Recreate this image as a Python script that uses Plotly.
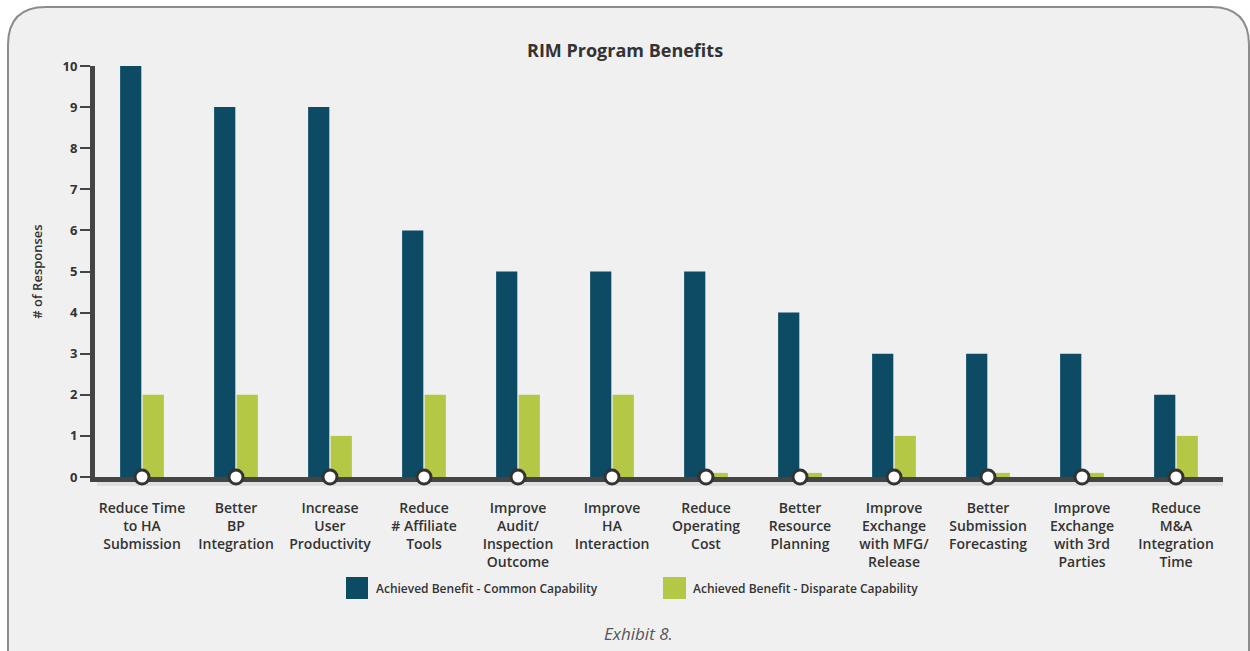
import plotly.graph_objects as go

categories = [
    "Reduce Time<br>to HA<br>Submission",
    "Better<br>BP<br>Integration",
    "Increase<br>User<br>Productivity",
    "Reduce<br># Affiliate<br>Tools",
    "Improve<br>Audit/<br>Inspection<br>Outcome",
    "Improve<br>HA<br>Interaction",
    "Reduce<br>Operating<br>Cost",
    "Better<br>Resource<br>Planning",
    "Improve<br>Exchange<br>with MFG/<br>Release",
    "Better<br>Submission<br>Forecasting",
    "Improve<br>Exchange<br>with 3rd<br>Parties",
    "Reduce<br>M&A<br>Integration<br>Time",
]
common = [10, 9, 9, 6, 5, 5, 5, 4, 3, 3, 3, 2]
disparate = [2, 2, 1, 2, 2, 2, 0.1, 0.1, 1, 0.1, 0.1, 1]
zero_markers = [0] * len(categories)
y_ticks = [0, 1, 2, 3, 4, 5, 6, 7, 8, 9, 10]
series_names = ["Achieved Benefit - Common Capability", "Achieved Benefit - Disparate Capability"]

DARK = "#0c4b63"
GREEN = "#b5c846"
TXT = "#333333"
FONT = "Open Sans"

W, H = 1250, 651
ML, MR, MT, MB = 95, 27, 66, 174
PW, PH = W - ML - MR, H - MT - MB


def px(x):
    return (x - ML) / PW


def py(y):
    return (H - MB - y) / PH


xs = list(range(len(categories)))
fig = go.Figure()
fig.add_trace(go.Bar(x=xs, y=common, name=series_names[0], showlegend=False, legendgroup="c",
                     marker=dict(color=DARK, line=dict(width=0))))
fig.add_trace(go.Bar(x=xs, y=disparate, name=series_names[1], showlegend=False, legendgroup="d",
                     marker=dict(color=GREEN, line=dict(width=0))))
# legend entries with large square swatches
fig.add_trace(go.Scatter(x=[None], y=[None], mode="markers", name=series_names[0], legendgroup="c",
                         marker=dict(symbol="square", size=22, color=DARK)))
fig.add_trace(go.Scatter(x=[None], y=[None], mode="markers", name=series_names[1], legendgroup="d",
                         marker=dict(symbol="square", size=22, color=GREEN)))
fig.add_trace(go.Scatter(x=xs, y=zero_markers, mode="markers", showlegend=False,
                         cliponaxis=False, hoverinfo="skip",
                         marker=dict(size=14, color="white", line=dict(color="#333333", width=3))))

# rounded background box
L, T, R, B, r = 8, 7, 1249, 670, 38
path = (
    f"M {px(L)},{py(T + r)} "
    f"Q {px(L)},{py(T)} {px(L + r)},{py(T)} "
    f"L {px(R - r)},{py(T)} "
    f"Q {px(R)},{py(T)} {px(R)},{py(T + r)} "
    f"L {px(R)},{py(B)} L {px(L)},{py(B)} Z"
)
shapes = [
    dict(type="path", path=path, xref="paper", yref="paper", layer="below",
         fillcolor="#f0f0f0", line=dict(color="#8c8c8c", width=2)),
    dict(type="line", xref="paper", yref="paper", x0=px(97), x1=px(1223), y0=py(483), y1=py(483),
         layer="below", line=dict(color="rgba(0,0,0,0.07)", width=6)),
    # enlarge legend swatches to match the reference's big squares
    dict(type="rect", xref="paper", yref="paper", x0=px(346), x1=px(368), y0=py(599), y1=py(577),
         layer="above", fillcolor=DARK, line=dict(width=0)),
    dict(type="rect", xref="paper", yref="paper", x0=px(663), x1=px(686), y0=py(599), y1=py(577),
         layer="above", fillcolor=GREEN, line=dict(width=0)),
]

annotations = [
    dict(text="<b>RIM Program Benefits</b>", x=px(625), y=py(50), xref="paper", yref="paper",
         showarrow=False, font=dict(family=FONT, size=18, color=TXT), xanchor="center", yanchor="middle"),
    dict(text="<i>Exhibit 8.</i>", x=px(638), y=py(633), xref="paper", yref="paper",
         showarrow=False, font=dict(family=FONT, size=17, color="#555555"), xanchor="center", yanchor="middle"),
]

fig.update_layout(
    width=W, height=H,
    margin=dict(l=ML, r=MR, t=MT, b=MB, pad=0),
    paper_bgcolor="white",
    plot_bgcolor="rgba(0,0,0,0)",
    barmode="group",
    bargap=0.52,
    bargroupgap=0.06,
    font=dict(family=FONT, color=TXT),
    shapes=shapes,
    annotations=annotations,
    showlegend=True,
    legend=dict(orientation="h", x=px(653), xanchor="center", y=py(588), yanchor="middle",
                font=dict(family=FONT, size=12, color=TXT, weight=600), bgcolor="rgba(0,0,0,0)",
                itemsizing="trace", itemwidth=30, entrywidth=272, traceorder="normal"),
    xaxis=dict(
        range=[-0.5, len(categories) - 0.5],
        tickmode="array", tickvals=xs, ticktext=categories,
        showline=True, linecolor="#444444", linewidth=5, layer="below traces",
        showgrid=False, zeroline=False, ticks="",
        tickfont=dict(family=FONT, size=14, color=TXT, weight=600),
        ticklabelstandoff=14,
    ),
    yaxis=dict(
        range=[0, 10], tickvals=y_ticks,
        showline=True, linecolor="#444444", linewidth=5,
        showgrid=False, zeroline=False,
        ticks="outside", ticklen=10, tickwidth=2, tickcolor="#444444",
        tickfont=dict(family=FONT, size=13, color=TXT, weight=700),
        title=dict(text="# of Responses", font=dict(family=FONT, size=13, color=TXT, weight=600), standoff=18),
    ),
)

fig.write_html("out.html")
